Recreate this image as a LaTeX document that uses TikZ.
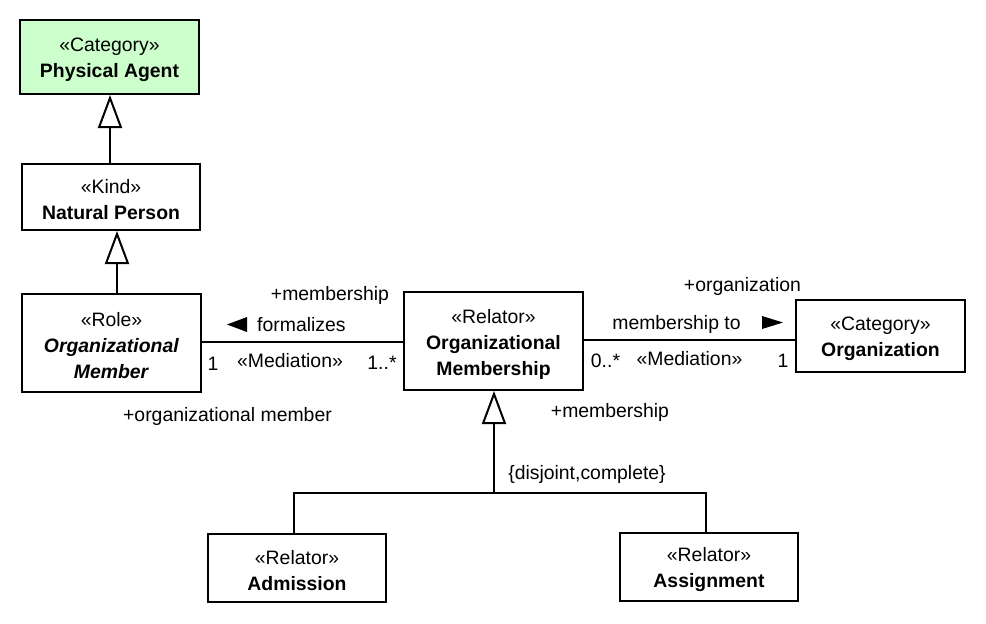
\documentclass[tikz,border=0pt]{standalone}
\usepackage{fontspec}
\setmainfont{Liberation Sans}
\usetikzlibrary{arrows.meta}
\newcommand\umlfont{\fontsize{19.4}{26}\selectfont}
\definecolor{catgreen}{RGB}{204,255,204}
\begin{document}
\begin{tikzpicture}[x=1pt,y=-1pt,
  cls/.style={draw=black, line width=2pt, fill=white, inner sep=0pt},
  clstxt/.style={align=center, inner sep=0pt, font=\umlfont, text=black, yshift=-3pt},
  lbl/.style={inner sep=0pt, font=\umlfont, anchor=base},
  gen/.style={line width=2pt, -{Triangle[open, length=33pt, width=24pt, line width=2pt]}},
  assoc/.style={line width=2pt}]
\path[use as bounding box, fill=white] (0,0) rectangle (986,624);

% classes
\node[cls, fill=catgreen, minimum width=179pt, minimum height=74pt,
  label={[clstxt]center:«Category»\\\textbf{Physical Agent}}] (pa) at (109.5,57) {};
\node[cls, minimum width=178pt, minimum height=66pt,
  label={[clstxt]center:«Kind»\\\textbf{Natural Person}}] (np) at (111,197) {};
\node[cls, minimum width=179pt, minimum height=98pt,
  label={[clstxt]center:«Role»\\\textbf{\itshape Organizational}\\\textbf{\itshape Member}}] (om) at (111.5,343) {};
\node[cls, minimum width=179pt, minimum height=98pt,
  label={[clstxt]center:«Relator»\\\textbf{Organizational}\\\textbf{Membership}}] (omb) at (493.5,341) {};
\node[cls, minimum width=169pt, minimum height=72pt,
  label={[clstxt]center:«Category»\\\textbf{Organization}}] (org) at (880.5,336) {};
\node[cls, minimum width=178pt, minimum height=68pt,
  label={[clstxt]center:«Relator»\\\textbf{Admission}}] (adm) at (297,568) {};
\node[cls, minimum width=178pt, minimum height=68pt,
  label={[clstxt]center:«Relator»\\\textbf{Assignment}}] (asg) at (709,567) {};

% generalizations
\draw[gen] (np.north -| 110,0) -- (pa.south -| 110,0);
\draw[gen] (om.north -| 117,0) -- (np.south -| 117,0);

\coordinate (gs) at (494,493);
\draw[line width=2pt] (adm.north -| 294,0) |- (gs) -| (asg.north -| 706,0);
\draw[gen] (gs) -- (omb.south -| gs);

% associations
\draw[assoc] (om.east |- 0,342) -- (omb.west |- 0,342);
\draw[assoc] (omb.east |- 0,340) -- (org.west |- 0,340);

% labels left association
\node[lbl] (l1) at (330,300) {+membership};
\fill (247,317) -- (227,324.5) -- (247,332) -- cycle;
\node[lbl, anchor=base west] (l2) at (257,331) {formalizes};
\node[lbl] (l3) at (213,370) {1};
\node[lbl] (l4) at (290,367) {«Mediation»};
\node[lbl] (l5) at (382,369) {1..*};
\node[lbl] (l6) at (227.5,421) {+organizational member};

% labels right association
\node[lbl] (r1) at (742.5,291) {+organization};
\node[lbl] (r2) at (676.5,329) {membership to};
\fill (762,316) -- (783,322.5) -- (762,329) -- cycle;
\node[lbl] (r3) at (605.5,367) {0..*};
\node[lbl] (r4) at (689.5,365) {«Mediation»};
\node[lbl] (r5) at (783,367) {1};

% generalization set labels
\node[lbl] (g1) at (610,417) {+membership};
\node[lbl] (g2) at (587,479) {\{disjoint,complete\}};
\end{tikzpicture}
\end{document}
